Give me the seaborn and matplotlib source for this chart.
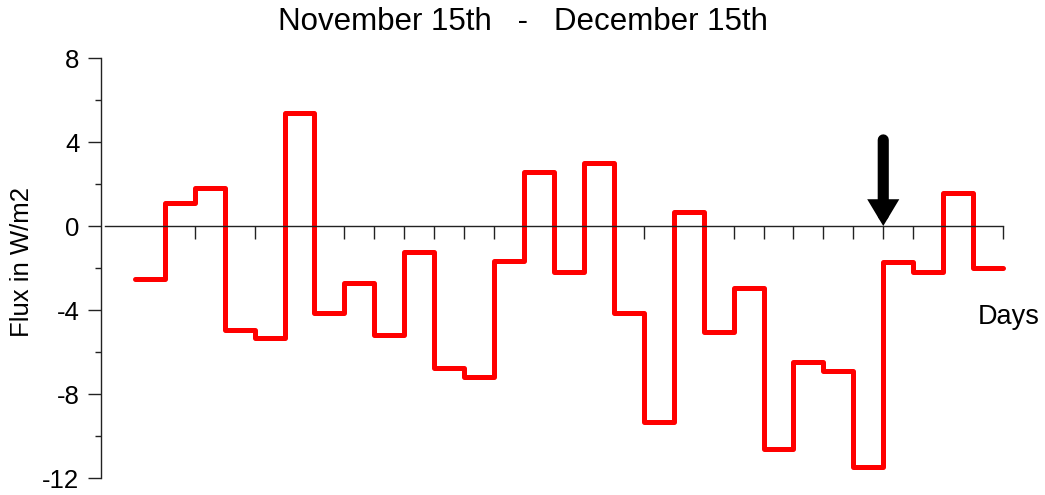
import matplotlib
matplotlib.use("Agg")
import matplotlib.pyplot as plt
import pandas as pd
import seaborn as sns

# Daily mean flux (W/m2), one value per day, drawn as a step from day to day+1
day_start = list(range(1, 30))
flux = [-2.54, 1.11, 1.79, -4.95, -5.32, 5.40, -4.16, -2.70, -5.19, -1.24,
        -6.75, -7.21, -1.65, 2.59, -2.17, 2.98, -4.13, -9.32, 0.68, -5.06,
        -2.94, -10.63, -6.49, -6.89, -11.46, -1.70, -2.21, 1.59, -1.98]
last_day = 30
x_ticks = list(range(2, 31))
y_major = [-12, -8, -4, 0, 4, 8]
y_minor = [-10, -6, -2, 2, 6]
marked_day = 26
marker_top = 4.1

title = "November 15th   -   December 15th"
y_label = "Flux in W/m2"
x_label = "Days"

sns.set_style("ticks")
plt.rcParams["font.family"] = ["Liberation Sans", "DejaVu Sans"]
plt.rcParams["text.color"] = "black"
plt.rcParams["axes.labelcolor"] = "black"
plt.rcParams["ytick.labelcolor"] = "black"

df = pd.DataFrame({"day": day_start + [last_day],
                   "flux": flux + [flux[-1]]})

fig = plt.figure(figsize=(10.45, 4.95), dpi=100)
ax = fig.add_axes([101 / 1045, 1 - 478 / 495, 902 / 1045, 420 / 495])

sns.lineplot(data=df, x="day", y="flux", ax=ax, color="#ff0000", lw=3.6,
             drawstyle="steps-post", estimator=None, sort=False,
             solid_capstyle="round", solid_joinstyle="round", clip_on=False)

ax.set_xlim(-0.13, 30)
ax.set_ylim(-12, 8)

ax.spines["top"].set_visible(False)
ax.spines["right"].set_visible(False)
ax.spines["bottom"].set_position(("data", 0))
ax.spines["bottom"].set_bounds(0, 30)
ax.spines["left"].set_bounds(-12, 8)
for side in ("left", "bottom"):
    ax.spines[side].set_color("#222222")
    ax.spines[side].set_linewidth(1.0)

ax.set_xticks(x_ticks)
ax.set_xticklabels([])
ax.set_yticks(y_major)
ax.set_yticklabels([str(v) for v in y_major])
ax.set_yticks(y_minor, minor=True)
ax.tick_params(axis="x", direction="out", length=9.5, width=1.0, color="#222222")
ax.tick_params(axis="y", which="major", direction="out", length=9.5, width=1.0,
               color="#222222", pad=6, labelsize=18.5, labelcolor="black")
ax.tick_params(axis="y", which="minor", direction="out", length=4.3, width=1.0,
               color="#222222")

ax.set_ylabel(y_label, fontsize=18.5, va="center", color="black")
ax.yaxis.set_label_coords(-0.0876, 0.514)
ax.set_xlabel(x_label, fontsize=19.5, ha="left", va="center", color="black")
ax.xaxis.set_label_coords(0.972, 0.383)

ax.annotate("", xy=(marked_day, 0), xytext=(marked_day, marker_top),
            arrowprops=dict(arrowstyle="-|>,head_width=0.45,head_length=0.75",
                            mutation_scale=10, lw=8, color="black",
                            shrinkA=0, shrinkB=0, capstyle="round",
                            joinstyle="miter"),
            annotation_clip=False)

fig.suptitle(title, x=0.5, y=1 - 22 / 495, va="center", fontsize=22.5,
             color="black")

fig.savefig("out.png", dpi=100)
